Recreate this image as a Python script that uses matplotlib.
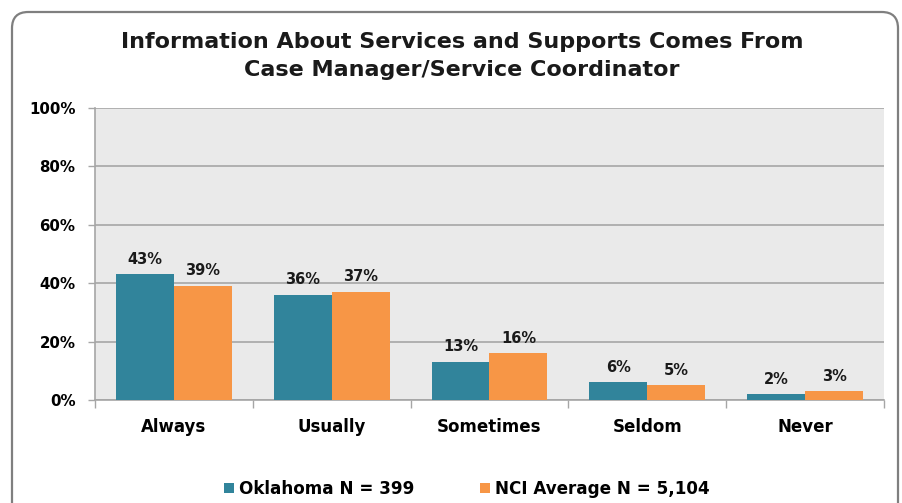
import matplotlib
matplotlib.use("Agg")
import matplotlib.pyplot as plt
import numpy as np
from matplotlib.patches import FancyBboxPatch

categories = ["Always", "Usually", "Sometimes", "Seldom", "Never"]
oklahoma = [43, 36, 13, 6, 2]
nci = [39, 37, 16, 5, 3]
series_names = ["Oklahoma N = 399", "NCI Average N = 5,104"]
yticks = [0, 20, 40, 60, 80, 100]
title = "Information About Services and Supports Comes From\nCase Manager/Service Coordinator"

FONT = ["DejaVu Sans"]
plt.rcParams['font.family'] = FONT

W, H = 903, 503
fig = plt.figure(figsize=(W / 100, H / 100), dpi=100)

# outer rounded frame
frame = FancyBboxPatch((12 / W, -20 / H), (898 - 12) / W, (H - 12 + 20) / H,
                       boxstyle="round,pad=0,rounding_size=0.018",
                       transform=fig.transFigure, facecolor="white",
                       edgecolor="#7F7F7F", linewidth=1.6, zorder=-5,
                       mutation_aspect=W / H)
fig.patches.append(frame)

left, right, top, bottom = 95, 884, 108, 400
ax = fig.add_axes([left / W, 1 - bottom / H, (right - left) / W, (bottom - top) / H])
ax.set_zorder(2)
ax.set_facecolor("#EAEAEA")

x = np.arange(len(categories))
bw = 0.367
teal = "#31849B"
orange = "#F79646"
b1 = ax.bar(x - bw / 2, oklahoma, bw, color=teal, label=series_names[0], zorder=3)
b2 = ax.bar(x + bw / 2, nci, bw, color=orange, label=series_names[1], zorder=3)

for bars, vals in ((b1, oklahoma), (b2, nci)):
    for rect, v in zip(bars, vals):
        ax.annotate(f"{v}%", (rect.get_x() + rect.get_width() / 2, v),
                    xytext=(0, 5.5), textcoords="offset points",
                    ha="center", va="bottom", fontsize=10.5, fontweight="bold",
                    color="#1a1a1a", zorder=4)

ax.set_xlim(-0.5, len(categories) - 0.5)
ax.set_ylim(0, 100)
ax.set_yticks(yticks)
ax.set_yticklabels([f"{t}%" for t in yticks], fontsize=10.8, fontweight="bold")
ax.yaxis.grid(True, color="#A6A6A6", linewidth=1.2, zorder=1)
ax.set_axisbelow(True)

ax.set_xticks(x)
ax.set_xticklabels(categories, fontsize=12, fontweight="bold")
ax.tick_params(axis="x", length=0, pad=13)
ax.set_xticks(np.arange(-0.5, len(categories)), minor=True)
ax.tick_params(axis="x", which="minor", length=6, color="#A6A6A6", width=1)
ax.tick_params(axis="y", length=5, color="#A6A6A6", width=1, pad=9)

for s in ["top", "right"]:
    ax.spines[s].set_visible(False)
for s in ["left", "bottom"]:
    ax.spines[s].set_color("#A6A6A6")
    ax.spines[s].set_linewidth(1.2)

fig.text(462 / W, 1 - 56.5 / H, title, ha="center", va="center",
         fontsize=16, fontweight="bold", linespacing=1.5, color="#1a1a1a")

leg = fig.legend(handles=[b1, b2], labels=series_names, loc="center",
                 bbox_to_anchor=(467 / W, 1 - 489 / H), ncol=2, frameon=False,
                 prop={"weight": "bold", "size": 12.1}, handlelength=0.6,
                 handleheight=0.6, handletextpad=0.3, columnspacing=3.9)

fig.savefig("out.png", dpi=100)
